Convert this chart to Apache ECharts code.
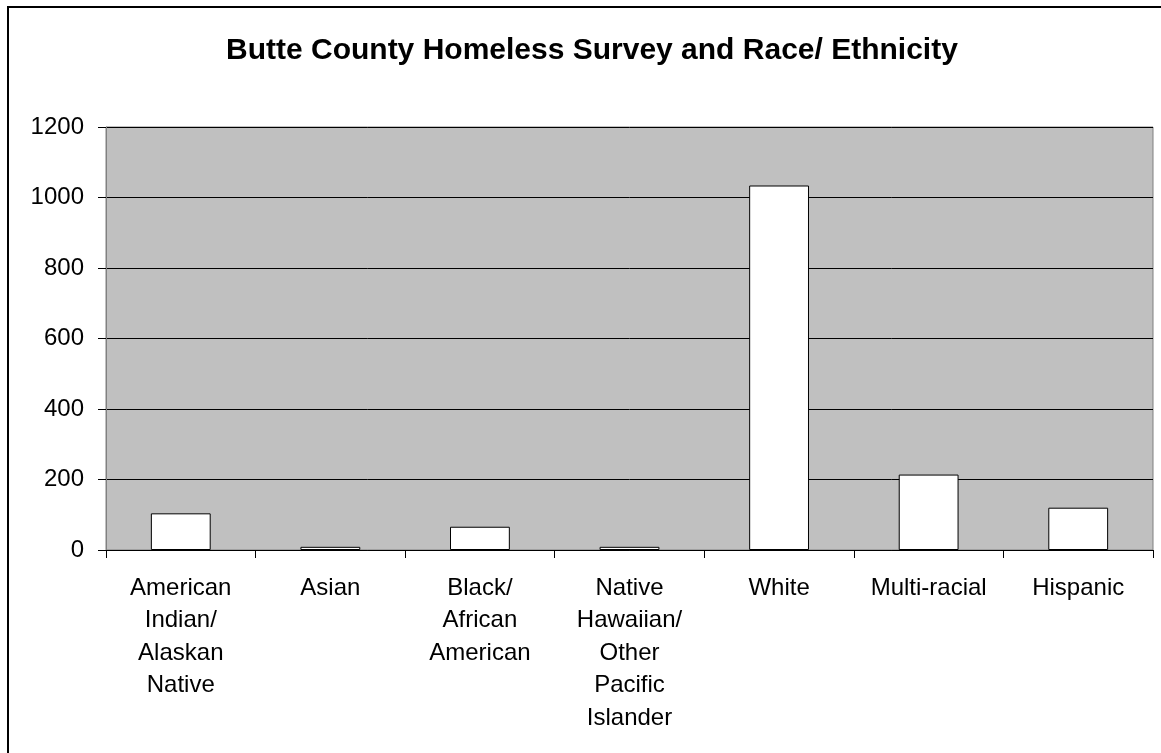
<!DOCTYPE html>
<html>
<head>
<meta charset="utf-8">
<script src="https://cdn.jsdelivr.net/npm/echarts@6/dist/echarts.min.js"></script>
<style>
html,body{margin:0;padding:0;background:#fff;}
#chart{width:1161px;height:753px;}
</style>
</head>
<body>
<div id="chart"></div>
<script>
var categories = [
  "American\nIndian/\nAlaskan\nNative",
  "Asian",
  "Black/\nAfrican\nAmerican",
  "Native\nHawaiian/\nOther\nPacific\nIslander",
  "White",
  "Multi-racial",
  "Hispanic"
];
var counts = [104, 9, 66, 9, 1034, 214, 120];
var yTicks = { min: 0, max: 1200, interval: 200 };
var titleText = "Butte County Homeless Survey and Race/ Ethnicity";

var font = "'Liberation Sans', Arial, sans-serif";
var chart = echarts.init(document.getElementById('chart'), null, { renderer: 'canvas' });
chart.setOption({
  animation: false,
  backgroundColor: '#ffffff',
  title: {
    text: titleText,
    left: 221,
    top: 31,
    textStyle: { fontFamily: font, fontSize: 30, fontWeight: 'bold', color: '#000' }
  },
  graphic: [{
    type: 'rect',
    shape: { x: 8, y: 7, width: 1300, height: 900 },
    style: { fill: 'none', stroke: '#000', lineWidth: 2 },
    silent: true
  }],
  grid: {
    left: 106, right: 8, top: 127, bottom: 203,
    show: true,
    backgroundColor: '#C0C0C0',
    borderColor: '#808080',
    borderWidth: 1,
    containLabel: false,
    outerBoundsMode: 'none'
  },
  xAxis: {
    type: 'category',
    data: categories,
    axisLine: { show: true, lineStyle: { color: '#000', width: 1 } },
    axisTick: { show: true, length: 8, lineStyle: { color: '#000' } },
    axisLabel: {
      interval: 0, margin: 22,
      fontFamily: font, fontSize: 24, color: '#000',
      lineHeight: 32.5, align: 'center'
    },
    splitLine: { show: false }
  },
  yAxis: {
    type: 'value',
    min: yTicks.min, max: yTicks.max, interval: yTicks.interval,
    axisLine: { show: true, lineStyle: { color: '#808080', width: 1 } },
    axisTick: { show: true, length: 8, lineStyle: { color: '#000' } },
    axisLabel: {
      margin: 22, fontFamily: font, fontSize: 24, color: '#000',
      formatter: function (v) { return String(v); }
    },
    splitLine: { show: true, lineStyle: { color: '#000', width: 1 } }
  },
  series: [{
    type: 'bar',
    data: counts,
    barCategoryGap: '60%',
    itemStyle: { color: '#ffffff', borderColor: '#000', borderWidth: 1 }
  }]
});
</script>
</body>
</html>
